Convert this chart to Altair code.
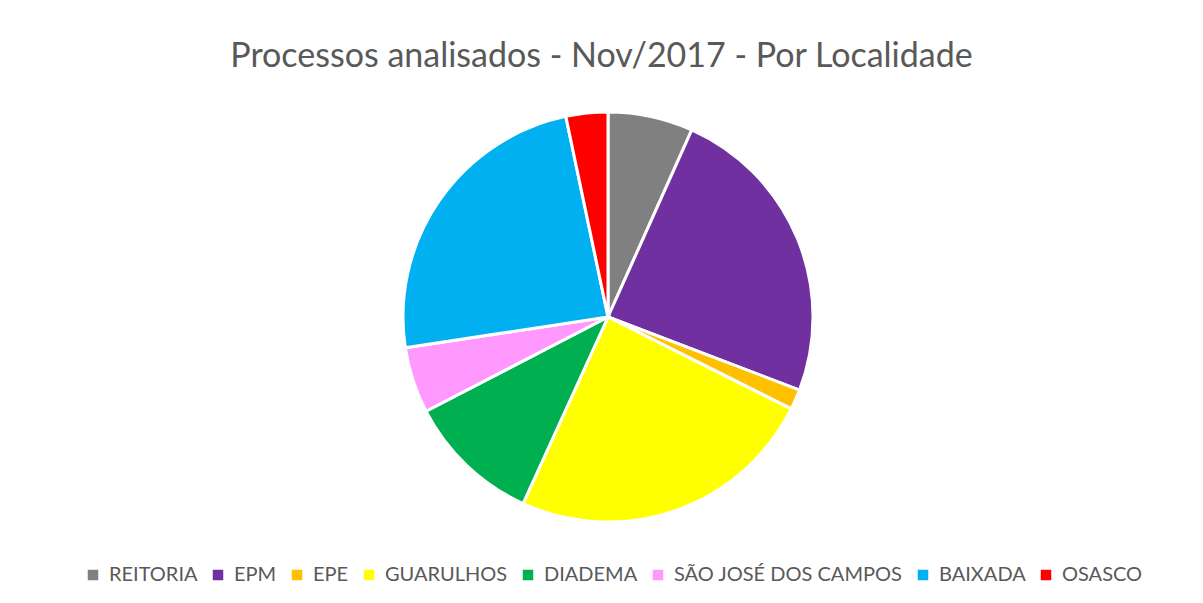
import altair as alt
import pandas as pd

categories = ["REITORIA", "EPM", "EPE", "GUARULHOS", "DIADEMA", "SÃO JOSÉ DOS CAMPOS", "BAIXADA", "OSASCO"]
values = [6.7, 24.1, 1.6, 24.4, 10.6, 5.2, 24.1, 3.3]
colors = ["#808080", "#7030A0", "#FFC000", "#FFFF00", "#00B050", "#FF99FF", "#00B0F0", "#FF0000"]

df = pd.DataFrame({"localidade": categories, "valor": values, "ordem": list(range(len(categories)))})

chart = alt.Chart(df).mark_arc(
    outerRadius=205, stroke="white", strokeWidth=3, x=600, y=209
).encode(
    theta=alt.Theta("valor:Q", stack=True),
    color=alt.Color(
        "localidade:N",
        sort=categories,
        scale=alt.Scale(domain=categories, range=colors),
        legend=alt.Legend(
            title=None, orient="none", direction="horizontal", legendX=75, legendY=457,
            symbolType="square", symbolSize=110, symbolStrokeWidth=0,
            labelFont="Lato", labelFontSize=20, labelColor="#595959", labelLimit=0,
            columnPadding=10, labelOffset=6, columns=8,
        ),
    ),
    order=alt.Order("ordem:Q"),
).properties(
    width=1187, height=480,
    padding={"left": 0, "top": 100, "right": 0, "bottom": 0},
    autosize=alt.AutoSizeParams(type="none"),
    title=alt.TitleParams(
        "Processos analisados - Nov/2017 - Por Localidade",
        font="Lato", fontSize=34, fontWeight="normal", color="#595959",
        anchor="middle", offset=32,
    ),
).configure_view(stroke=None).configure(background="white")

chart.save("out.html", embed_options={"renderer": "svg", "actions": False})
